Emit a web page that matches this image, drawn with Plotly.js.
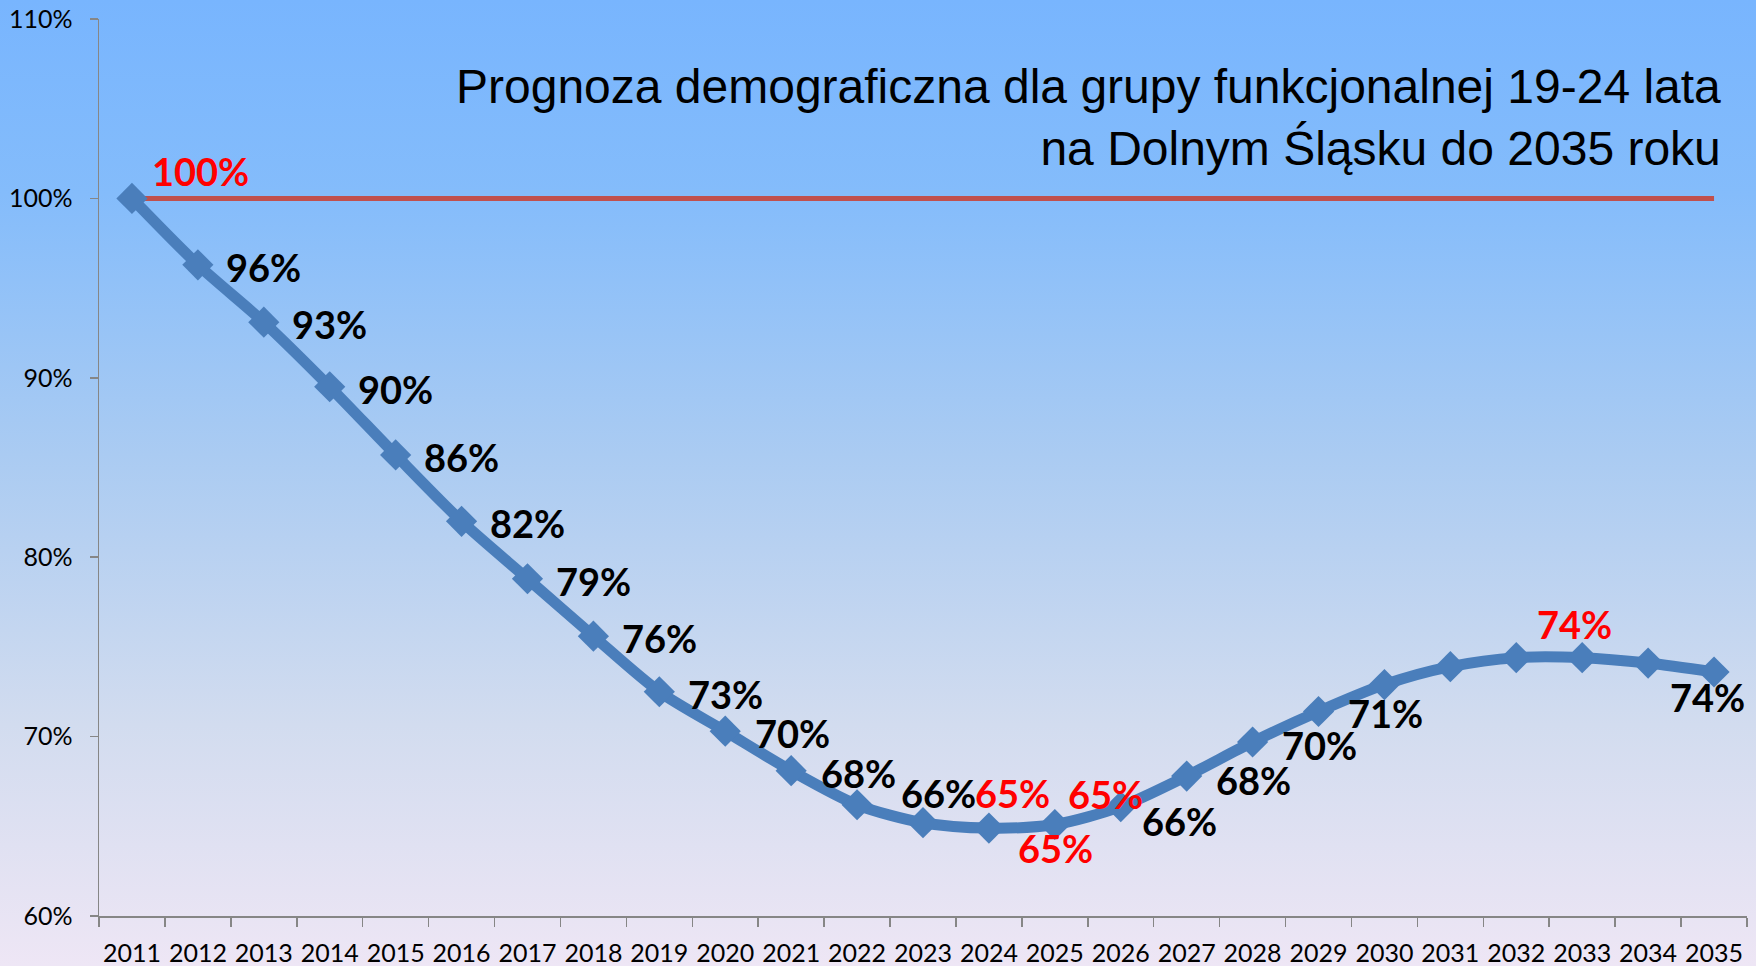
<!DOCTYPE html>
<html>
<head>
<meta charset="utf-8">
<script src="https://cdn.plot.ly/plotly-3.0.1.min.js"></script>
<style>
  html, body { margin: 0; padding: 0; }
  #wrap {
    width: 1756px; height: 966px;
    background: linear-gradient(to bottom, #78b5fe 0%, #84bcfb 20%, #aacbf2 47%, #d2dcef 75%, #eee6f5 100%);
  }
  #chart { width: 1756px; height: 966px; }
</style>
</head>
<body>
<div id="wrap"><div id="chart"></div></div>
<script>
// ---- data ----
const years = ["2011","2012","2013","2014","2015","2016","2017","2018","2019","2020",
               "2021","2022","2023","2024","2025","2026","2027","2028","2029","2030",
               "2031","2032","2033","2034","2035"];
const forecast = [100.0, 96.3, 93.1, 89.5, 85.7, 82.0, 78.8, 75.6, 72.5, 70.3,
                  68.1, 66.2, 65.2, 64.9, 65.1, 66.1, 67.8, 69.7, 71.4, 72.9,
                  73.9, 74.4, 74.4, 74.1, 73.6];
const baseline = years.map(() => 100);
const yTicks = [60, 70, 80, 90, 100, 110];
const titleText = "Prognoza demograficzna dla grupy funkcjonalnej 19-24 lata<br>na Dolnym Śląsku do 2035 roku";

// ---- label placement (style config, not data) ----
// year -> [xshift, yshift, colour]
const placements = {
  "2012": [66, -2, "#000"], "2013": [66, -2, "#000"], "2014": [66, -2, "#000"],
  "2015": [66, -2, "#000"], "2016": [66, -2, "#000"], "2017": [66, -2, "#000"],
  "2018": [66, -2, "#000"], "2019": [66, -2, "#000"], "2020": [67, -2, "#000"],
  "2021": [67, -2, "#000"], "2022": [81, 12, "#000"],
  "2023": [89, 30, "#ff0000"], "2024": [67, -20, "#ff0000"], "2025": [51, 31, "#ff0000"],
  "2026": [59, -14, "#000"], "2027": [67, -4, "#000"], "2028": [67, -3, "#000"],
  "2029": [67, -2, "#000"], "2033": [-8, 34, "#ff0000"], "2035": [-7, -25, "#000"]
};

const labelFont = { family: "Lato, 'Open Sans', sans-serif", size: 38 };

const annotations = [];
years.forEach((yr, i) => {
  const p = placements[yr];
  if (!p) return;
  annotations.push({
    x: i, y: forecast[i], xref: "x", yref: "y",
    text: "<b>" + Math.round(forecast[i]) + "%</b>",
    showarrow: false, xanchor: "center", yanchor: "middle",
    xshift: p[0], yshift: p[1],
    font: Object.assign({}, labelFont, { color: p[2] })
  });
});
// label of the 100% reference line
annotations.push({
  x: 0, y: baseline[0], xref: "x", yref: "y",
  text: "<b>" + baseline[0] + "%</b>",
  showarrow: false, xanchor: "center", yanchor: "middle",
  xshift: 69, yshift: 27,
  font: Object.assign({}, labelFont, { color: "#ff0000" })
});
// title
const titleAnn = {
  x: 1, y: 1, xref: "paper", yref: "paper",
  text: titleText, showarrow: false, align: "right",
  xanchor: "right", yanchor: "top",
  font: { family: "'Liberation Sans', Arial, sans-serif", size: 48, color: "#000" }
};
annotations.push(titleAnn);

const traces = [
  {
    x: years, y: baseline, type: "scatter", mode: "lines",
    line: { color: "#c0504d", width: 5 },
    hoverinfo: "skip"
  },
  {
    x: years, y: forecast, type: "scatter", mode: "lines+markers",
    line: { color: "#4a7ebb", width: 11, shape: "spline", smoothing: 0.8 },
    marker: { symbol: "diamond", size: 24, color: "#4a7ebb" }
  }
];

const W = 1756, H = 966;
const tickFont = { family: "Lato, 'Open Sans', sans-serif", size: 25, color: "#000" };
const layout = {
  width: W, height: H,
  margin: { l: 99, r: 9, t: 19, b: 50, pad: 0 },
  paper_bgcolor: "rgba(0,0,0,0)",
  plot_bgcolor: "rgba(0,0,0,0)",
  showlegend: false,
  xaxis: {
    type: "category",
    range: [-0.5, years.length - 0.5],
    tickson: "boundaries",
    tickangle: 0,
    ticks: "outside", ticklen: 9, tickwidth: 1.5, tickcolor: "#868686",
    showline: true, linecolor: "#868686", linewidth: 1.5,
    showgrid: false, zeroline: false,
    tickfont: tickFont,
    ticklabelstandoff: 14,
    automargin: false
  },
  yaxis: {
    range: [60, 110],
    tickvals: yTicks,
    ticktext: yTicks.map(v => v + "%"),
    ticks: "outside", ticklen: 8, tickwidth: 1.5, tickcolor: "#868686",
    showline: true, linecolor: "#868686", linewidth: 1.5,
    showgrid: false, zeroline: false,
    tickfont: tickFont,
    ticklabelstandoff: 12,
    automargin: false
  },
  annotations: annotations
};

// place the title's top-right corner at a pixel spot of the page
const pw = W - layout.margin.l - layout.margin.r, ph = H - layout.margin.t - layout.margin.b;
titleAnn.x = (1723 - layout.margin.l) / pw;
titleAnn.y = 1 - (58 - layout.margin.t) / ph;

Plotly.newPlot("chart", traces, layout, { displayModeBar: false, staticPlot: true });
</script>
</body>
</html>
